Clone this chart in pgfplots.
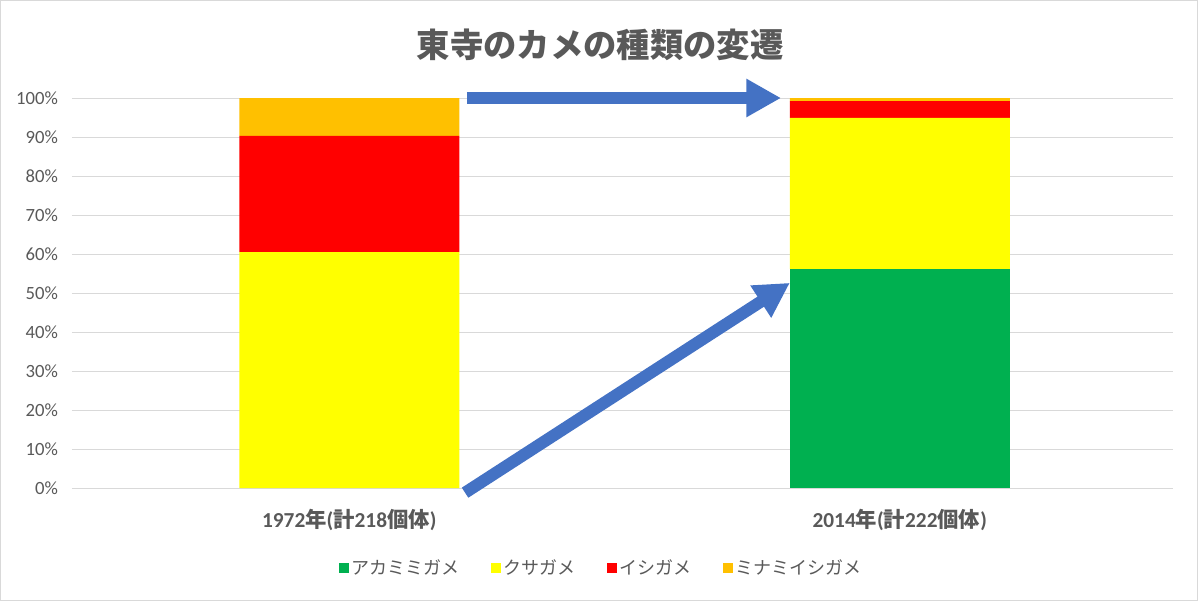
\documentclass[border=0pt]{standalone}
\usepackage{pgfplots}
\pgfplotsset{compat=1.18}
\usepackage{fontspec}
\setmainfont{Carlito}
\newfontfamily\cjk{Noto Sans CJK JP}
\usetikzlibrary{arrows.meta}
\definecolor{tickgrey}{HTML}{595959}
\definecolor{gridgrey}{HTML}{D9D9D9}
\definecolor{cgreen}{HTML}{00B050}
\definecolor{cyellow}{HTML}{FFFF00}
\definecolor{cred}{HTML}{FF0000}
\definecolor{corange}{HTML}{FFC000}
\definecolor{arrowblue}{HTML}{4472C4}
\begin{document}
\begin{tikzpicture}
\path (0,0) rectangle (898.5pt,450.75pt);
\draw[gridgrey, line width=0.75pt] (0.375pt,0.375pt) rectangle (898.125pt,450.375pt);
\node[font=\cjk\bfseries\fontsize{25}{30}\selectfont, text=tickgrey] at (450pt,417pt) {東寺のカメの種類の変遷};
\begin{axis}[
  at={(54pt,84.75pt)}, anchor=south west,
  scale only axis, width=825.75pt, height=292.5pt,
  xmin=-0.5, xmax=1.5, ymin=0, ymax=100,
  ybar stacked, bar width=165pt,
  xtick={0,1},
  xticklabels={{1972{\cjk\bfseries 年}({\cjk\bfseries 計}218{\cjk\bfseries 個体})},{2014{\cjk\bfseries 年}({\cjk\bfseries 計}222{\cjk\bfseries 個体})}},
  ytick={0,10,...,100},
  yticklabel={\pgfmathprintnumber{\tick}\%},
  /pgf/number format/assume math mode=true,
  ymajorgrids, grid style={gridgrey, line width=0.75pt},
  axis line style={draw=none},
  major tick length=0pt,
  tick label style={text=tickgrey},
  yticklabel style={font=\fontsize{14}{16}\selectfont, xshift=-7pt},
  xticklabel style={font=\bfseries\fontsize{16}{19}\selectfont, yshift=-12pt, xshift=1.5pt},
  clip=false,
  legend style={at={(0.481,-0.205)}, anchor=center, draw=none, fill=none,
    legend columns=4, font=\cjk\fontsize{13.5}{16}\selectfont, text=tickgrey,
    /tikz/every even column/.append style={column sep=22pt}},
  legend image code/.code={\fill[#1] (0pt,-3.5pt) rectangle (7pt,3.5pt);},
]
\addplot[fill=cgreen, draw=none, bar shift=1.5pt] coordinates {(0,0) (1,56.2)};
\addplot[fill=cyellow, draw=none, bar shift=1.5pt] coordinates {(0,60.5) (1,38.7)};
\addplot[fill=cred, draw=none, bar shift=1.5pt] coordinates {(0,29.8) (1,4.3)};
\addplot[fill=corange, draw=none, bar shift=1.5pt] coordinates {(0,9.7) (1,0.8)};
\legend{アカミミガメ,クサガメ,イシガメ,ミナミイシガメ}
\draw[arrowblue, line width=9pt, -{Triangle[length=26pt,width=27pt]}] (axis cs:0.2175,100) -- (axis cs:0.788,100);
\draw[arrowblue, line width=9pt, -{Triangle[length=26pt,width=27pt]}] (axis cs:0.214,-1.2) -- (axis cs:0.804,52.6);
\end{axis}
\end{tikzpicture}
\end{document}
